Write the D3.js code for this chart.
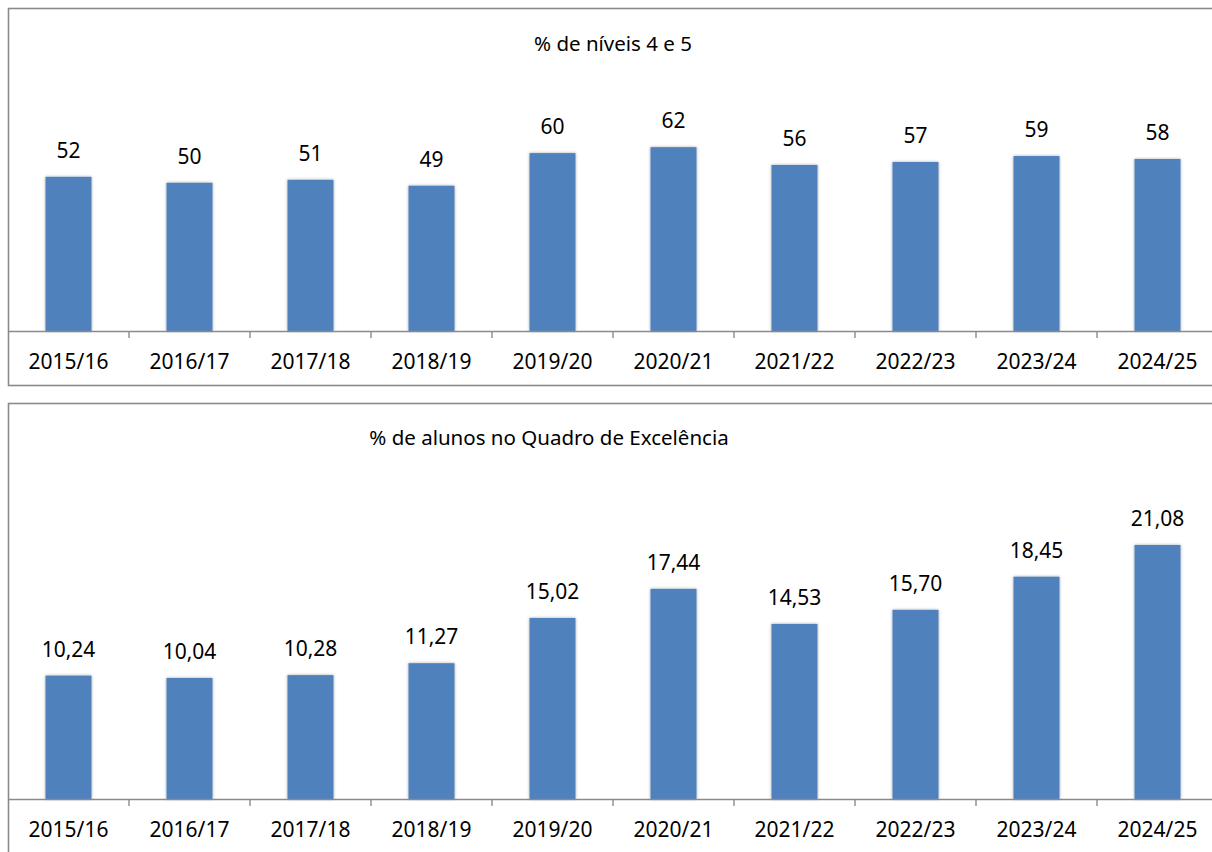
<!DOCTYPE html>
<html>
<head>
	<meta charset="utf-8">
	<title>Níveis 4 e 5 / Quadro de Excelência</title>
	<script src="https://d3js.org/d3.v7.min.js"></script>
	<style>
		body { margin: 0; background: #fff; }
		svg { display: block; }
	</style>
</head>
<body>
	<svg id="chart" width="1212" height="852"></svg>

	<script type="text/javascript">
// dados
var anos = ["2015/16", "2016/17", "2017/18", "2018/19", "2019/20", "2020/21", "2021/22", "2022/23", "2023/24", "2024/25"];
var niveis45 = [52, 50, 51, 49, 60, 62, 56, 57, 59, 58];
var quadroExcelencia = [10.24, 10.04, 10.28, 11.27, 15.02, 17.44, 14.53, 15.70, 18.45, 21.08];
var tituloNiveis = "% de níveis 4 e 5";
var tituloQuadro = "% de alunos no Quadro de Excelência";

var svg = d3.select('#chart');
var pt = d3.formatLocale({ decimal: ",", thousands: ".", grouping: [3], currency: ["", "€"] });

// sombra suave dos lados das barras
var defs = svg.append('defs');
var f = defs.append('filter').attr('id', 'sombra')
    .attr('x', '-20%').attr('y', '-5%').attr('width', '140%').attr('height', '110%');
f.append('feDropShadow')
    .attr('dx', 0).attr('dy', 0).attr('stdDeviation', 1.6)
    .attr('flood-color', '#000').attr('flood-opacity', 0.35);

/**
  * desenha um painel (moldura, título, barras, rótulos e eixo)
  */
function drawPanel(opts) {
    var g = svg.append('g');

    // moldura
    g.append('rect')
        .attr('x', 8.5).attr('y', opts.top + 0.5)
        .attr('width', 1210).attr('height', opts.height)
        .attr('fill', '#fff')
        .attr('stroke', '#8a8a8a')
        .attr('stroke-width', 1.6);

    var x = d3.scaleBand().domain(anos).range([8, 1218]).padding(0);
    var y = d3.scaleLinear().domain(opts.domain).range([opts.axisY, opts.axisY - opts.pxPerUnit * opts.domain[1]]);
    var barW = 46;

    // título
    g.append('text')
        .attr('x', opts.titleX).attr('y', opts.titleY)
        .attr('text-anchor', 'middle')
        .attr('font-family', '"Noto Sans", sans-serif')
        .attr('font-size', 20.5)
        .attr('fill', '#000')
        .text(opts.title);

    // barras
    g.selectAll('rect.bar')
        .data(opts.values)
        .enter().append('rect')
        .attr('class', 'bar')
        .attr('x', function(d, i) { return x(anos[i]) + x.bandwidth() / 2 - barW / 2; })
        .attr('y', function(d) { return y(d); })
        .attr('width', barW)
        .attr('height', function(d) { return y(0) - y(d); })
        .attr('fill', '#4f81bd')
        .attr('filter', 'url(#sombra)');

    // rótulos de dados
    g.selectAll('text.valor')
        .data(opts.values)
        .enter().append('text')
        .attr('class', 'valor')
        .attr('x', function(d, i) { return x(anos[i]) + x.bandwidth() / 2; })
        .attr('y', function(d) { return y(d) - 19; })
        .attr('text-anchor', 'middle')
        .attr('font-family', '"Noto Sans", sans-serif')
        .attr('font-size', 21)
        .attr('fill', '#000')
        .text(function(d) { return opts.fmt(d); });

    // eixo das categorias
    var axis = d3.axisBottom(x).tickSize(0).tickPadding(0);
    var ga = g.append('g')
        .attr('transform', 'translate(0,' + opts.axisY + ')')
        .call(axis);
    ga.select('.domain').attr('stroke', '#8a8a8a').attr('stroke-width', 1.6);
    ga.selectAll('.tick text')
        .attr('y', 38)
        .attr('dy', 0)
        .attr('font-family', '"Noto Sans", sans-serif')
        .attr('font-size', 21)
        .attr('fill', '#000');

    // marcas entre categorias
    ga.selectAll('line.sep')
        .data(anos.slice(1))
        .enter().append('line')
        .attr('class', 'sep')
        .attr('x1', function(d) { return x(d); })
        .attr('x2', function(d) { return x(d); })
        .attr('y1', 0).attr('y2', 7)
        .attr('stroke', '#8a8a8a')
        .attr('stroke-width', 1.4);
}

drawPanel({
    top: 8, height: 377,
    title: tituloNiveis, titleX: 613, titleY: 51,
    values: niveis45,
    domain: [0, 70], pxPerUnit: 2.965,
    axisY: 331,
    fmt: d3.format('d')
});

drawPanel({
    top: 403, height: 470,
    title: tituloQuadro, titleX: 549, titleY: 445,
    values: quadroExcelencia,
    domain: [0, 25], pxPerUnit: 12.05,
    axisY: 799,
    fmt: pt.format('.2f')
});
</script>
</body>
</html>
